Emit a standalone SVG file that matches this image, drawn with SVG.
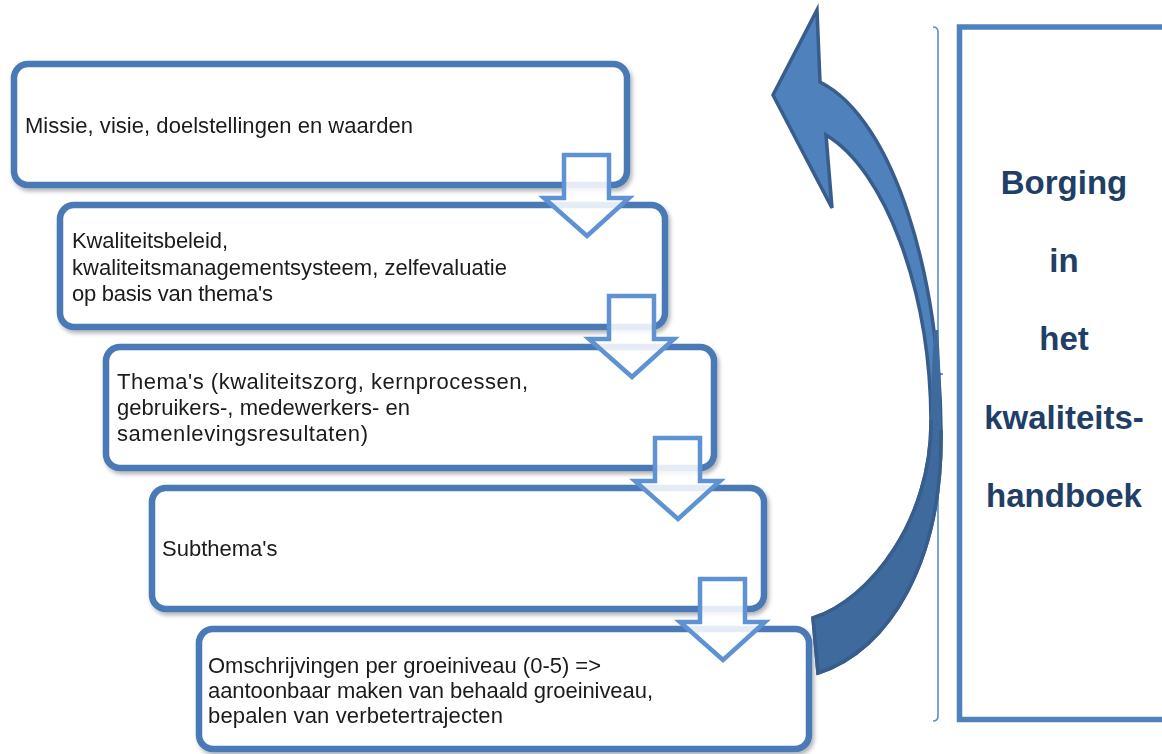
<svg xmlns="http://www.w3.org/2000/svg" width="1162" height="754" viewBox="0 0 1162 754">
<defs>
<style>
.box{fill:#fff;stroke:#4a7ab6;stroke-width:6.5}
.t{font-family:"Liberation Sans",Arial,sans-serif;font-size:22px;fill:#1a1a1a}
.down{fill:#fff;fill-opacity:0.86;stroke:#5f92d2;stroke-width:4.5;stroke-linejoin:miter}
.side{font-family:"Liberation Sans",Arial,sans-serif;font-size:33px;font-weight:bold;fill:#213f66;text-anchor:middle}
</style>
<filter id="sh" x="-5%" y="-10%" width="115%" height="130%">
<feDropShadow dx="2" dy="3" stdDeviation="2" flood-color="#000" flood-opacity="0.3"/>
</filter>
<path id="dn" d="M-23,0 L22,0 L22,43 L42,43 L0,81 L-43,43 L-23,43 Z"/>
</defs>
<g id="node1" filter="url(#sh)">
<rect class="box" x="14" y="64" width="613" height="121" rx="14"/>
<text class="t" x="25" y="133" textLength="388" lengthAdjust="spacing">Missie, visie, doelstellingen en waarden</text>
</g>
<g id="node2" filter="url(#sh)">
<rect class="box" x="60" y="205" width="605" height="122" rx="14"/>
<text class="t" x="72" y="248" textLength="156" lengthAdjust="spacing">Kwaliteitsbeleid,</text>
<text class="t" x="72" y="275" textLength="435" lengthAdjust="spacing">kwaliteitsmanagementsysteem, zelfevaluatie</text>
<text class="t" x="72" y="301" textLength="201" lengthAdjust="spacing">op basis van thema's</text>
</g>
<g id="node3" filter="url(#sh)">
<rect class="box" x="106" y="347" width="608" height="121" rx="14"/>
<text class="t" x="117" y="389" textLength="411" lengthAdjust="spacing">Thema's (kwaliteitszorg, kernprocessen,</text>
<text class="t" x="117" y="415" textLength="293" lengthAdjust="spacing">gebruikers-, medewerkers- en</text>
<text class="t" x="117" y="441" textLength="251" lengthAdjust="spacing">samenlevingsresultaten)</text>
</g>
<g id="node4" filter="url(#sh)">
<rect class="box" x="152" y="488" width="612" height="121" rx="14"/>
<text class="t" x="162" y="556">Subthema's</text>
</g>
<g id="node5" filter="url(#sh)">
<rect class="box" x="199" y="629" width="610" height="120" rx="14"/>
<text class="t" x="208" y="673" textLength="393" lengthAdjust="spacing">Omschrijvingen per groeiniveau (0-5) =&gt;</text>
<text class="t" x="208" y="698" textLength="445" lengthAdjust="spacing">aantoonbaar maken van behaald groeiniveau,</text>
<text class="t" x="208" y="723" textLength="295" lengthAdjust="spacing">bepalen van verbetertrajecten</text>
</g>
<g id="side">
<rect x="959.5" y="27" width="240" height="692.5" fill="#fff" stroke="#4f81bd" stroke-width="5.5"/>
<text class="side" x="1064" y="194">Borging</text>
<text class="side" x="1064" y="272">in</text>
<text class="side" x="1064" y="350">het</text>
<text class="side" x="1064" y="429">kwaliteits-</text>
<text class="side" x="1064" y="507">handboek</text>
</g>
<g id="connectors">
<use href="#dn" class="down" x="587" y="155"/>
<use href="#dn" class="down" x="632" y="296"/>
<use href="#dn" class="down" x="678" y="438"/>
<use href="#dn" class="down" x="723" y="579"/>
<path d="M933,27 Q938,27 938,32 L938,369 Q938,374 943,374 Q938,374 938,379 L938,716 Q938,721 933,721" fill="none" stroke="#5b8bd0" stroke-width="1.6"/>
<path d="M817,10 L820,82 C895,120 940,280 941,430 C943,560 890,650 818,673 L813,618 C870,600 932,520 931,420 C930,290 885,170 826,135 L832,208 L773,95 Z" fill="#4f81bd" stroke="#385d8a" stroke-width="3.5" stroke-linejoin="miter"/>
<path d="M938,330 C941,370 941,400 941,430 C943,560 890,650 818,673 L813,618 C870,600 932,520 931,420 C931,395 932,370 934,330 Z" fill="#3f6a9e" stroke="none"/>
<path d="M941,430 C943,560 890,650 818,673 L813,618 C870,600 932,520 931,420" fill="none" stroke="#385d8a" stroke-width="3.5"/>
</g>
</svg>
